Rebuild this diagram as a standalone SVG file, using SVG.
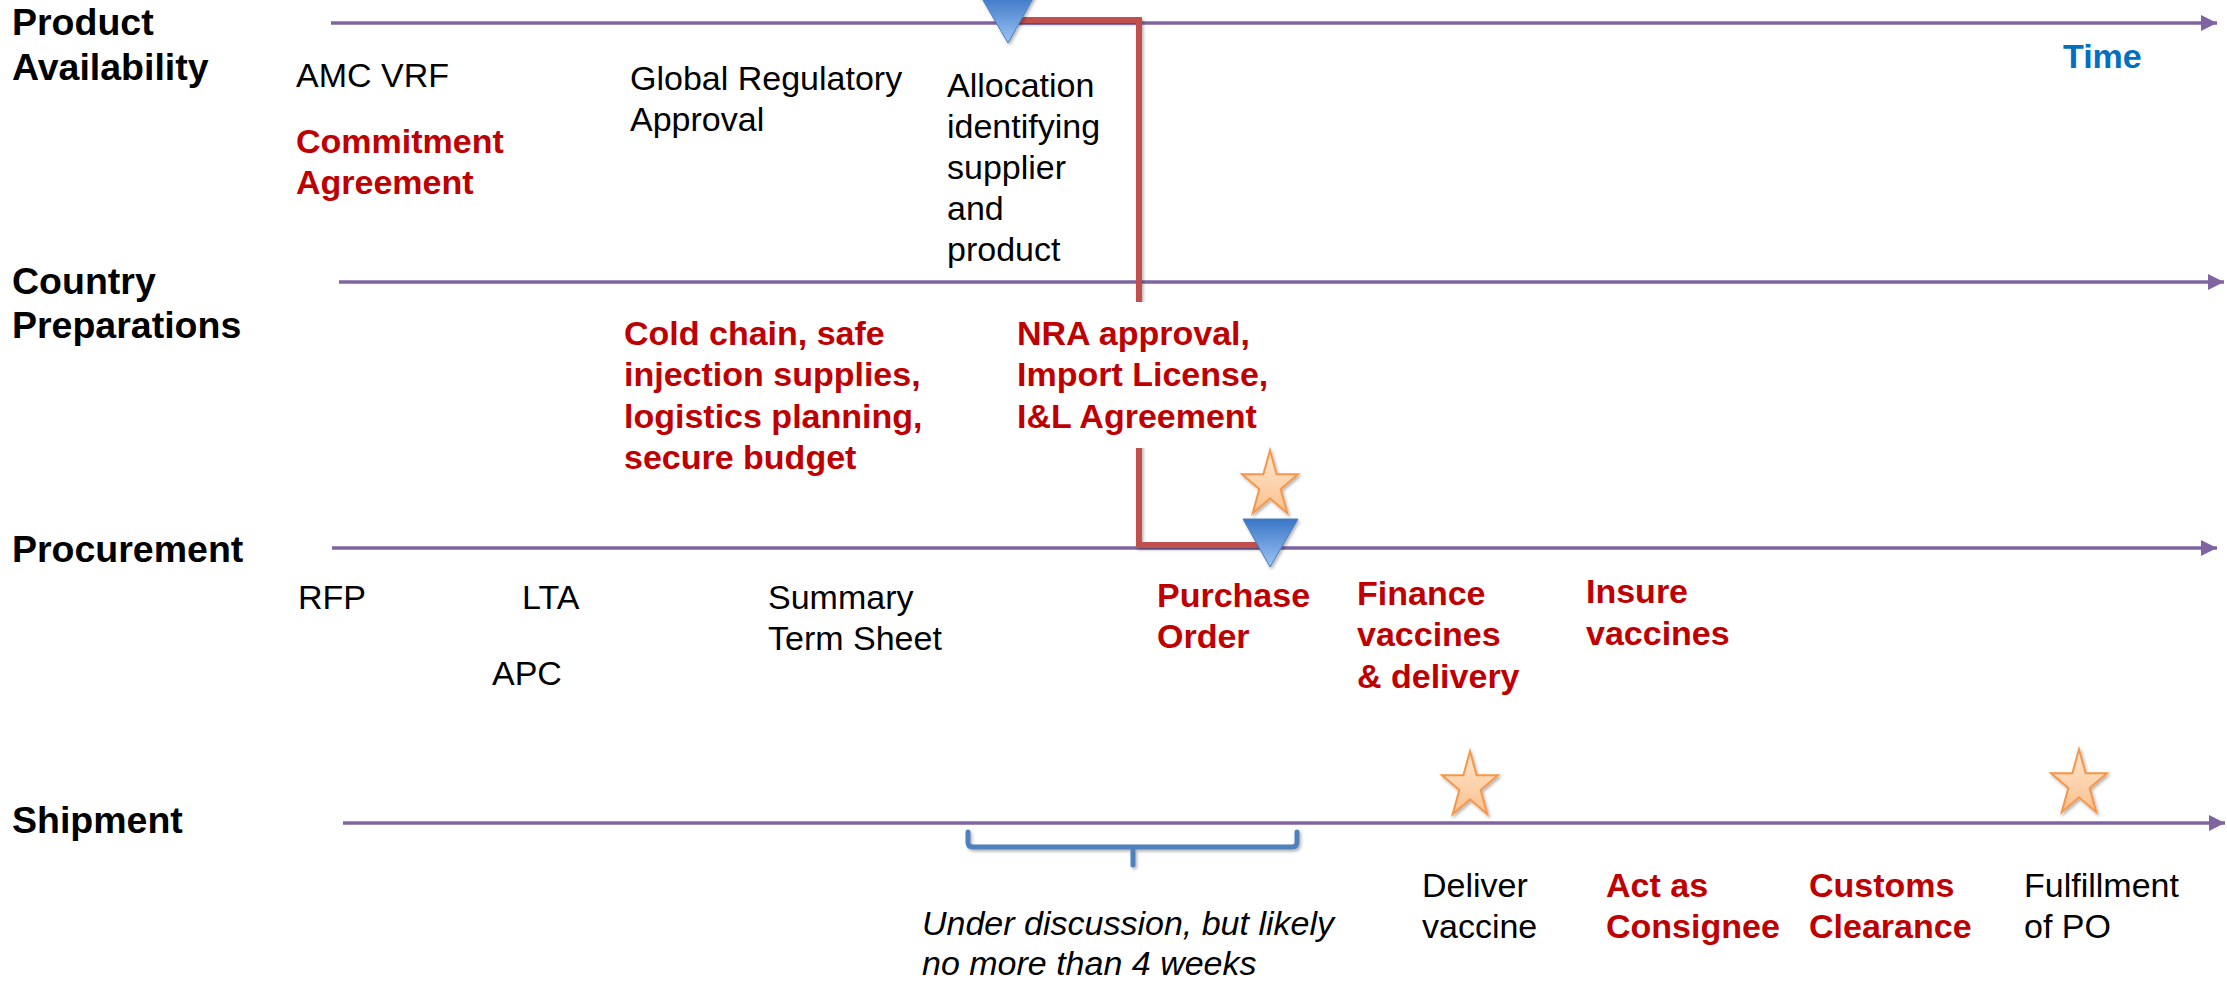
<svg xmlns="http://www.w3.org/2000/svg" xmlns:xlink="http://www.w3.org/1999/xlink" width="2227" height="987" viewBox="0 0 2227 987">
<style>
text{font-family:"Liberation Sans",Arial,sans-serif;}
.lbl{font-size:37.5px;font-weight:bold;fill:#000;}
.n{font-size:34px;fill:#000;}
.r{font-size:34px;font-weight:bold;fill:#C00000;}
.it{font-size:34px;font-style:italic;fill:#000;}
.axis{stroke:#8064A2;stroke-width:3.5;fill:none;marker-end:url(#ah);}
.red{stroke:#C0504D;stroke-width:6;fill:none;filter:url(#sh);}
.brace{stroke:#4F81BD;stroke-width:5;fill:none;stroke-linecap:round;stroke-linejoin:round;filter:url(#sh);}
.tri{fill:url(#tg);stroke:#4A7EBB;stroke-width:1;filter:url(#sh);}
.star{fill:url(#sg);stroke:#F79646;stroke-width:2;stroke-linejoin:miter;filter:url(#sh);}
</style>
<defs>
<marker id="ah" markerUnits="userSpaceOnUse" markerWidth="17" markerHeight="17" refX="16" refY="8" orient="auto">
<path d="M0,0 L16,8 L0,16 Z" fill="#8064A2"/>
</marker>
<linearGradient id="tg" x1="0" y1="0" x2="0" y2="1">
<stop offset="0" stop-color="#3A76C6"/>
<stop offset="1" stop-color="#9CC4F4"/>
</linearGradient>
<linearGradient id="sg" x1="0" y1="0" x2="0" y2="1">
<stop offset="0" stop-color="#FFE6CF"/>
<stop offset="1" stop-color="#FBC18F"/>
</linearGradient>
<filter id="sh" x="-20%" y="-20%" width="140%" height="140%">
<feDropShadow dx="1.5" dy="2" stdDeviation="1.5" flood-color="#000" flood-opacity="0.3"/>
</filter>
<path id="starShape" d="M0,-34.8 L6.6,-10.75 L27.96,-10.75 L10.67,4.11 L17.29,28.15 L0,13.29 L-17.29,28.15 L-10.67,4.11 L-27.96,-10.75 L-6.6,-10.75 Z"/>
</defs>
<rect width="2227" height="987" fill="#fff"/>

<g id="connectors">
<line class="axis" x1="331" y1="23" x2="2217" y2="23"/>
<line class="axis" x1="339" y1="282" x2="2224" y2="282"/>
<line class="axis" x1="332" y1="548" x2="2217" y2="548"/>
<line class="axis" x1="343" y1="823" x2="2225" y2="823"/>
<path class="red" d="M1010,20 H1139 V545 H1262"/>
<path class="brace" d="M968,832 V842 Q968,847 973,847 H1292 Q1297,847 1297,842 V832 M1133,847 V865"/>
</g>

<g id="lane-product">
<text class="lbl" x="12" y="35">Product</text>
<text class="lbl" x="12" y="80">Availability</text>
</g>
<g id="lane-country">
<text class="lbl" x="12" y="294">Country</text>
<text class="lbl" x="12" y="338">Preparations</text>
</g>
<g id="lane-procurement">
<text class="lbl" x="12" y="562">Procurement</text>
</g>
<g id="lane-shipment">
<text class="lbl" x="12" y="833">Shipment</text>
</g>

<g id="time"><text x="2063" y="68" style="font-size:34px;font-weight:bold;fill:#0070C0">Time</text></g>

<g id="amc-vrf"><text class="n" x="296" y="87">AMC VRF</text></g>
<g id="commitment"><text class="r" x="296" y="153">Commitment</text><text class="r" x="296" y="194">Agreement</text></g>
<g id="global-reg"><text class="n" x="630" y="90">Global Regulatory</text><text class="n" x="630" y="131">Approval</text></g>
<g id="allocation">
<text class="n" x="947" y="97">Allocation</text>
<text class="n" x="947" y="138">identifying</text>
<text class="n" x="947" y="179">supplier</text>
<text class="n" x="947" y="220">and</text>
<text class="n" x="947" y="261">product</text>
</g>
<g id="tri-top"><polygon class="tri" points="980,-5 1035,-5 1008,43"/></g>

<g id="cold-chain">
<text class="r" x="624" y="345">Cold chain, safe</text>
<text class="r" x="624" y="386">injection supplies,</text>
<text class="r" x="624" y="428">logistics planning,</text>
<text class="r" x="624" y="469">secure budget</text>
</g>
<g id="nra">
<rect x="1008" y="302" width="280" height="146" fill="#fff"/>
<text class="r" x="1017" y="345">NRA approval,</text>
<text class="r" x="1017" y="386">Import License,</text>
<text class="r" x="1017" y="428">I&amp;L Agreement</text>
</g>

<g id="star-po"><use xlink:href="#starShape" class="star" x="1270" y="485"/></g>
<g id="tri-po"><polygon class="tri" points="1243,519 1298,519 1270,567"/></g>

<g id="rfp"><text class="n" x="298" y="609">RFP</text></g>
<g id="lta"><text class="n" x="522" y="609">LTA</text></g>
<g id="apc"><text class="n" x="492" y="685">APC</text></g>
<g id="summary"><text class="n" x="768" y="609">Summary</text><text class="n" x="768" y="650">Term Sheet</text></g>
<g id="purchase-order"><text class="r" x="1157" y="607">Purchase</text><text class="r" x="1157" y="648">Order</text></g>
<g id="finance"><text class="r" x="1357" y="605">Finance</text><text class="r" x="1357" y="646">vaccines</text><text class="r" x="1357" y="688">&amp; delivery</text></g>
<g id="insure"><text class="r" x="1586" y="603">Insure</text><text class="r" x="1586" y="645">vaccines</text></g>

<g id="star-deliver"><use xlink:href="#starShape" class="star" x="1470" y="786"/></g>
<g id="star-fulfill"><use xlink:href="#starShape" class="star" x="2079" y="784"/></g>

<g id="under-discussion"><text class="it" x="922" y="935">Under discussion, but likely</text><text class="it" x="922" y="975">no more than 4 weeks</text></g>
<g id="deliver"><text class="n" x="1422" y="897">Deliver</text><text class="n" x="1422" y="938">vaccine</text></g>
<g id="consignee"><text class="r" x="1606" y="897">Act as</text><text class="r" x="1606" y="938">Consignee</text></g>
<g id="customs"><text class="r" x="1809" y="897">Customs</text><text class="r" x="1809" y="938">Clearance</text></g>
<g id="fulfillment"><text class="n" x="2024" y="897">Fulfillment</text><text class="n" x="2024" y="938">of PO</text></g>
</svg>
